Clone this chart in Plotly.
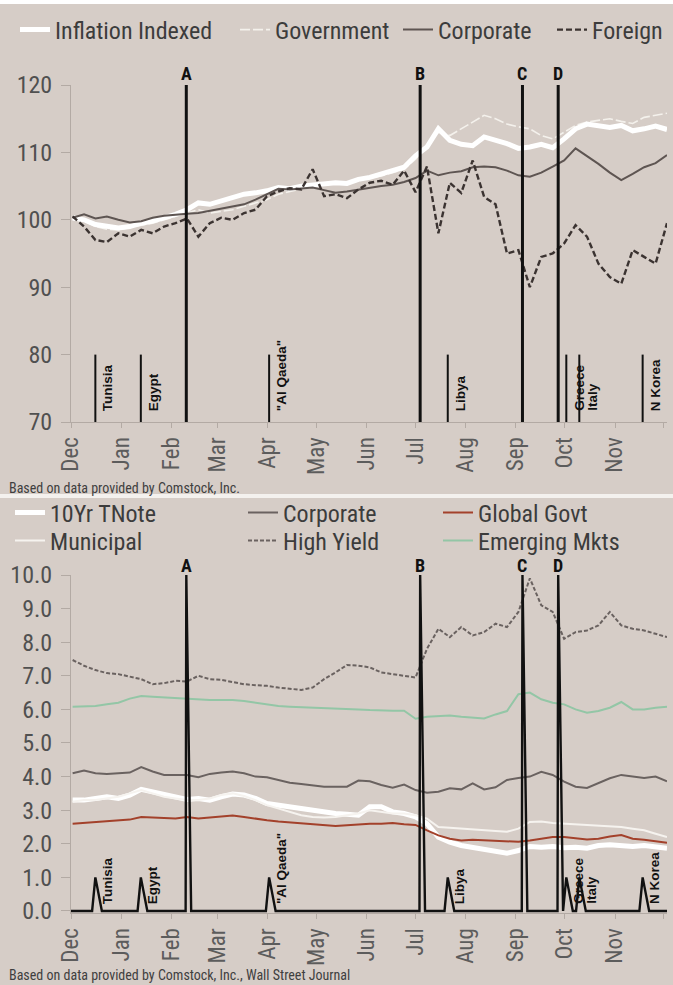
import pandas as pd
import plotly.graph_objects as go

# ---------------- data ----------------
dates = pd.date_range("2010-12-02", "2011-12-03", periods=53)

# top panel: total return index (Dec = 100)
inflation_indexed = [100.3, 100.0, 99.3, 99.0, 98.8, 99.0, 99.5, 99.8, 100.3, 100.8,
                     101.5, 102.5, 102.3, 102.8, 103.3, 103.8, 104.0, 104.3, 104.8, 104.6,
                     105.0, 105.2, 105.3, 105.5, 105.4, 106.0, 106.3, 106.8, 107.2, 107.8,
                     109.5, 110.8, 113.5, 111.8, 111.2, 111.0, 112.3, 111.8, 111.3, 110.6,
                     110.8, 111.2, 110.7, 112.0, 113.5, 114.2, 114.0, 113.7, 114.0, 113.2,
                     113.5, 113.9, 113.4]
government = [100.0, 99.8, 99.0, 98.6, 98.5, 98.8, 99.2, 99.5, 100.0, 100.5,
              101.0, 101.5, 101.0, 101.3, 101.5, 102.0, 102.5, 103.0, 103.8, 104.2,
              104.5, 105.0, 105.2, 105.3, 105.5, 106.0, 106.2, 106.5, 107.0, 107.5,
              109.0, 111.0, 113.0, 112.5, 113.5, 114.5, 115.5, 115.0, 114.2, 113.8,
              113.5, 112.5, 112.0, 113.0, 114.0, 114.5, 114.8, 115.0, 114.6, 114.3,
              115.2, 115.5, 115.8]
corporate_index = [100.3, 100.8, 100.2, 100.5, 100.0, 99.6, 99.8, 100.3, 100.6, 100.8,
                   100.9, 101.0, 101.3, 101.6, 102.0, 102.3, 103.0, 103.8, 104.6, 104.5,
                   104.7, 104.8, 104.4, 104.0, 104.2, 104.5, 104.8, 105.0, 105.2, 105.6,
                   106.2, 107.3, 106.6, 107.0, 107.2, 107.8, 107.9, 107.8, 107.3, 106.6,
                   106.4, 107.0, 107.9, 108.8, 110.6, 109.5, 108.3, 107.0, 105.9, 106.8,
                   107.8, 108.4, 109.6]
foreign = [100.5, 99.0, 97.0, 96.7, 98.0, 97.5, 98.5, 98.0, 99.0, 99.5,
           100.2, 97.5, 99.5, 100.3, 100.0, 101.0, 101.5, 103.5, 104.2, 104.7,
           104.5, 107.5, 103.5, 103.8, 103.2, 104.5, 105.5, 105.8, 105.2, 107.3,
           104.1, 107.9, 98.0, 105.5, 104.0, 108.8, 103.4, 102.3, 95.0, 95.5,
           90.0, 94.5, 95.0, 96.5, 99.2, 97.5, 93.5, 91.5, 90.5, 95.5,
           94.5, 93.5, 99.5]

# bottom panel: yields (%)
tnote = [3.30, 3.30, 3.35, 3.40, 3.35, 3.45, 3.62, 3.55, 3.45, 3.40,
         3.32, 3.35, 3.30, 3.40, 3.48, 3.45, 3.35, 3.20, 3.15, 3.08,
         3.05, 3.00, 2.95, 2.90, 2.88, 2.85, 3.10, 3.10, 2.95, 2.90,
         2.80, 2.60, 2.20, 2.05, 1.95, 1.90, 1.85, 1.80, 1.72, 1.80,
         1.92, 1.90, 1.92, 1.88, 1.90, 1.87, 1.95, 1.97, 1.95, 1.92,
         1.95, 1.90, 1.87]
municipal = [3.25, 3.30, 3.30, 3.35, 3.40, 3.50, 3.60, 3.50, 3.40, 3.35,
             3.30, 3.30, 3.35, 3.45, 3.50, 3.42, 3.30, 3.15, 3.05, 2.95,
             2.85, 2.80, 2.78, 2.80, 2.85, 2.90, 3.00, 2.95, 2.90, 2.90,
             2.85, 2.75, 2.50, 2.48, 2.45, 2.42, 2.40, 2.38, 2.36, 2.45,
             2.65, 2.66, 2.62, 2.60, 2.60, 2.58, 2.55, 2.52, 2.50, 2.45,
             2.40, 2.30, 2.20]
corporate_yield = [4.10, 4.18, 4.10, 4.08, 4.10, 4.12, 4.28, 4.15, 4.05, 4.06,
                   4.05, 3.98, 4.08, 4.12, 4.15, 4.10, 4.00, 3.98, 3.90, 3.82,
                   3.78, 3.74, 3.70, 3.70, 3.70, 3.88, 3.86, 3.75, 3.67, 3.76,
                   3.60, 3.52, 3.55, 3.65, 3.62, 3.80, 3.62, 3.68, 3.90, 3.96,
                   4.00, 4.14, 4.05, 3.85, 3.70, 3.66, 3.80, 3.95, 4.05, 4.00,
                   3.96, 4.00, 3.86]
global_govt = [2.60, 2.62, 2.65, 2.66, 2.68, 2.72, 2.80, 2.78, 2.75, 2.75,
               2.80, 2.75, 2.78, 2.80, 2.84, 2.80, 2.74, 2.70, 2.66, 2.63,
               2.60, 2.58, 2.56, 2.53, 2.55, 2.58, 2.60, 2.60, 2.62, 2.58,
               2.56, 2.40, 2.25, 2.15, 2.10, 2.12, 2.11, 2.10, 2.08, 2.06,
               2.10, 2.15, 2.20, 2.20, 2.16, 2.13, 2.15, 2.22, 2.26, 2.15,
               2.12, 2.08, 2.03]
high_yield = [7.47, 7.30, 7.17, 7.08, 7.05, 6.97, 6.90, 6.75, 6.78, 6.85,
              6.83, 7.00, 6.90, 6.88, 6.82, 6.75, 6.72, 6.70, 6.65, 6.62,
              6.58, 6.65, 6.90, 7.10, 7.32, 7.30, 7.25, 7.10, 7.05, 7.00,
              6.95, 7.80, 8.40, 8.15, 8.45, 8.20, 8.30, 8.55, 8.45, 8.90,
              9.90, 9.10, 8.90, 8.10, 8.30, 8.35, 8.50, 8.90, 8.50, 8.40,
              8.35, 8.25, 8.15]
emerging = [6.08, 6.10, 6.10, 6.15, 6.20, 6.32, 6.40, 6.38, 6.36, 6.32,
            6.30, 6.28, 6.28, 6.28, 6.28, 6.25, 6.20, 6.15, 6.10, 6.08,
            6.07, 6.05, 6.04, 6.03, 6.02, 6.00, 5.98, 5.96, 5.96, 5.96,
            5.72, 5.78, 5.80, 5.82, 5.78, 5.75, 5.73, 5.85, 5.95, 6.45,
            6.50, 6.30, 6.20, 6.15, 6.00, 5.90, 5.95, 6.05, 6.22, 6.00,
            6.00, 6.05, 6.08]

# events
event_names = ["Tunisia", "Egypt", "A", "\"Al Qaeda\"", "B", "Libya", "C", "D",
               "Greece", "Italy", "N Korea"]
event_dates = ["2010-12-16", "2011-01-13", "2011-02-10", "2011-04-02", "2011-07-04",
               "2011-07-21", "2011-09-05", "2011-09-27", "2011-10-02", "2011-10-10",
               "2011-11-18"]
event_major = [False, False, True, False, True, False, True, True, False, False, False]

month_ticks = pd.date_range("2010-12-01", "2011-12-01", freq="MS")
month_labels = [d.strftime("%b") for d in month_ticks]

# ---------------- style ----------------
BG = "rgb(214,205,199)"
FONT = "Liberation Sans Narrow, Arial Narrow, Roboto Condensed, DejaVu Sans Condensed, sans-serif"
BOLD = "Liberation Sans, Arial, sans-serif"
AXC = "#b3aaa4"
W, H = 673, 985
X_RANGE = ["2010-12-01", "2011-12-03"]


def fx(px):
    return px / W


def fy(py):
    return 1 - py / H


fig = go.Figure()

# ---------- top panel ----------
fig.add_trace(go.Scatter(x=dates, y=government, name="Government", mode="lines",
                         line=dict(color="#f4f1ec", width=1.6, dash="10px,3px"),
                         xaxis="x", yaxis="y", legend="legend2"))
fig.add_trace(go.Scatter(x=dates, y=inflation_indexed, name="Inflation Indexed", mode="lines",
                         line=dict(color="#ffffff", width=5),
                         xaxis="x", yaxis="y", legend="legend"))
fig.add_trace(go.Scatter(x=dates, y=corporate_index, name="Corporate", mode="lines",
                         line=dict(color="#5e5552", width=2),
                         xaxis="x", yaxis="y", legend="legend3"))
fig.add_trace(go.Scatter(x=dates, y=foreign, name="Foreign", mode="lines",
                         line=dict(color="#3b3331", width=2.4, dash="6px,3px"),
                         xaxis="x", yaxis="y", legend="legend4"))

maj_x, maj_y, min_x, min_y = [], [], [], []
for d, m in zip(event_dates, event_major):
    if m:
        maj_x += [d, d, None]
        maj_y += [70, 120, None]
    else:
        min_x += [d, d, None]
        min_y += [70, 80, None]
fig.add_trace(go.Scatter(x=min_x, y=min_y, mode="lines", showlegend=False,
                         line=dict(color="#111111", width=2), xaxis="x", yaxis="y"))
fig.add_trace(go.Scatter(x=maj_x, y=maj_y, mode="lines", showlegend=False,
                         line=dict(color="#111111", width=3), xaxis="x", yaxis="y"))

# ---------- bottom panel ----------
fig.add_trace(go.Scatter(x=dates, y=tnote, name="10Yr TNote", mode="lines",
                         line=dict(color="#ffffff", width=5),
                         xaxis="x2", yaxis="y2", legend="legend5"))
fig.add_trace(go.Scatter(x=dates, y=municipal, name="Municipal", mode="lines",
                         line=dict(color="#f6f3ef", width=2),
                         xaxis="x2", yaxis="y2", legend="legend6"))
fig.add_trace(go.Scatter(x=dates, y=corporate_yield, name="Corporate", mode="lines",
                         line=dict(color="#6a6260", width=2),
                         xaxis="x2", yaxis="y2", legend="legend7"))
fig.add_trace(go.Scatter(x=dates, y=high_yield, name="High Yield", mode="lines",
                         line=dict(color="#6a6260", width=2, dash="4px,2px"),
                         xaxis="x2", yaxis="y2", legend="legend8"))
fig.add_trace(go.Scatter(x=dates, y=global_govt, name="Global Govt", mode="lines",
                         line=dict(color="#a3412b", width=2),
                         xaxis="x2", yaxis="y2", legend="legend9"))
fig.add_trace(go.Scatter(x=dates, y=emerging, name="Emerging Mkts", mode="lines",
                         line=dict(color="#93c6a6", width=2),
                         xaxis="x2", yaxis="y2", legend="legend10"))

sx = [pd.Timestamp(X_RANGE[0])]
sy = [0]
for d, m in zip(event_dates, event_major):
    t = pd.Timestamp(d)
    h = 10 if m else 1
    rise = pd.Timedelta(hours=10) if m else pd.Timedelta(days=2)
    fall = pd.Timedelta(days=3) if m else pd.Timedelta(days=4)
    sx += [t - rise, t, t + fall]
    sy += [0, h, 0]
sx.append(pd.Timestamp(X_RANGE[1]))
sy.append(0)
fig.add_trace(go.Scatter(x=sx, y=sy, mode="lines", showlegend=False,
                         line=dict(color="#111111", width=2.4), xaxis="x2", yaxis="y2"))

# ---------- annotations ----------
ann = []
for name, d, m in zip(event_names, event_dates, event_major):
    if m:
        for xref, yref, yv, ys in (("x", "y", 120, -1), ("x2", "y2", 10, -3)):
            ann.append(dict(x=d, y=yv, xref=xref, yref=yref,
                            text="<b>%s</b>" % name, showarrow=False,
                            xanchor="center", yanchor="bottom", yshift=ys,
                            font=dict(family=FONT, size=18, color="#111111")))
    else:
        for xref, yref, yv, ys in (("x", "y", 70, 9), ("x2", "y2", 0, 5)):
            ann.append(dict(x=d, y=yv, xref=xref, yref=yref,
                            text="<b>%s</b>" % name, showarrow=False, textangle=-90,
                            xanchor="left", yanchor="bottom", xshift=3, yshift=ys,
                            font=dict(family=BOLD, size=13.5, color="#111111")))

ann.append(dict(x=fx(7), y=fy(488), xref="paper", yref="paper", xanchor="left",
                yanchor="middle", showarrow=False,
                text="Based on data provided by Comstock, Inc.",
                font=dict(family=FONT, size=14, color="#3f3f3f")))
ann.append(dict(x=fx(7), y=fy(975), xref="paper", yref="paper", xanchor="left",
                yanchor="middle", showarrow=False,
                text="Based on data provided by Comstock, Inc., Wall Street Journal",
                font=dict(family=FONT, size=14, color="#3f3f3f")))

shapes = [
    dict(type="rect", xref="paper", yref="paper", x0=0, x1=1, y0=fy(4), y1=1,
         fillcolor="#ffffff", line=dict(width=0), layer="below"),
    dict(type="rect", xref="paper", yref="paper", x0=0, x1=1, y0=fy(498), y1=fy(494),
         fillcolor="#f4f1ee", line=dict(width=0), layer="below"),
]

xdom = [fx(71), fx(667)]
xaxis_common = dict(type="date", range=X_RANGE, tickmode="array", tickvals=month_ticks,
                    ticktext=month_labels, tickangle=-90,
                    tickfont=dict(family=FONT, size=23, color="#5c5c5c"),
                    ticks="outside", ticklen=5, tickcolor=AXC, showline=True,
                    linecolor=AXC, linewidth=1, showgrid=False, zeroline=False,
                    domain=xdom, fixedrange=True, automargin=False)
yaxis_common = dict(ticks="outside", ticklen=9, tickcolor=AXC, showline=True,
                    linecolor=AXC, linewidth=1, showgrid=False, zeroline=False,
                    tickfont=dict(family=FONT, size=24, color="#505050"),
                    ticklabelstandoff=4, automargin=False, fixedrange=True)


def leg(xp, yp, size=24):
    return dict(x=fx(xp), y=fy(yp), xanchor="left", yanchor="middle", orientation="h",
                bgcolor="rgba(0,0,0,0)", borderwidth=0, itemwidth=30,
                font=dict(family=FONT, size=size, color="#3c3c3c"))


fig.update_layout(
    width=W, height=H, margin=dict(l=0, r=0, t=0, b=0, autoexpand=False),
    paper_bgcolor=BG, plot_bgcolor=BG, showlegend=True,
    xaxis=dict(**xaxis_common, anchor="y"),
    xaxis2=dict(**xaxis_common, anchor="y2"),
    yaxis=dict(**yaxis_common, range=[70, 120], tickvals=[70, 80, 90, 100, 110, 120],
               domain=[fy(422), fy(85)], anchor="x"),
    yaxis2=dict(**yaxis_common, range=[-0.06, 10], tickvals=list(range(0, 11)),
                tickformat=".1f", domain=[fy(913), fy(575)], anchor="x2"),
    legend=leg(15, 30), legend2=leg(235, 30), legend3=leg(398, 30), legend4=leg(552, 30),
    legend5=leg(10, 513), legend6=leg(10, 541), legend7=leg(243, 513),
    legend8=leg(243, 541), legend9=leg(438, 513), legend10=leg(438, 541),
    annotations=ann, shapes=shapes,
)

fig.write_html("out.html", config={"displayModeBar": False},
               post_script="document.body.style.margin='0px';"
                           "document.body.style.padding='0px';"
                           "document.documentElement.style.overflow='hidden';")
